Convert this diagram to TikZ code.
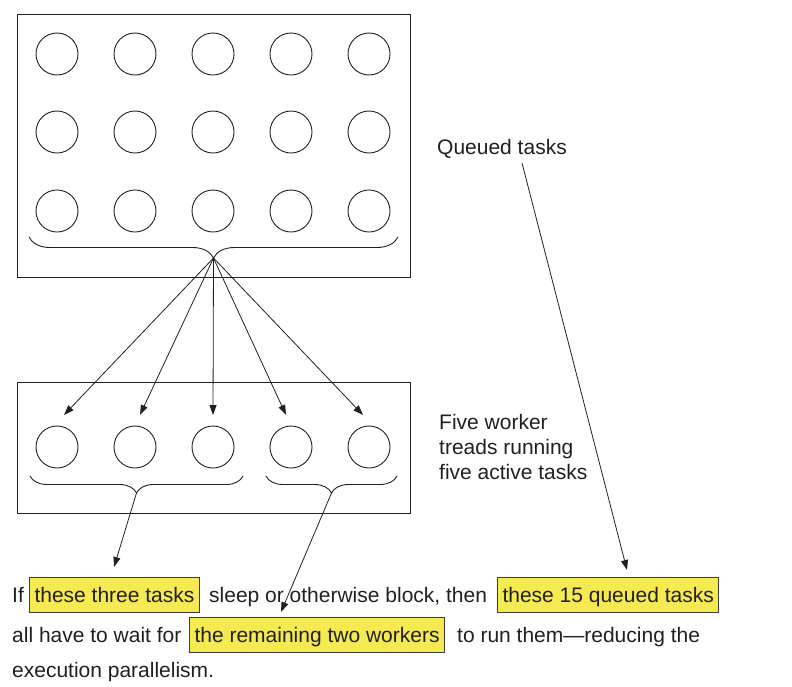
\documentclass[tikz,border=0pt]{standalone}
\usepackage{fontspec}
\setmainfont{Liberation Sans}
\usetikzlibrary{arrows.meta,decorations.pathreplacing}
\definecolor{hly}{RGB}{245,234,82}
\definecolor{ink}{RGB}{35,31,32}
\definecolor{hlborder}{RGB}{60,60,60}
\begin{document}
\begin{tikzpicture}[x=1pt,y=-1pt,
  task/.style={circle,draw=ink,line width=0.9pt,minimum size=42pt,inner sep=0pt},
  panel/.style={draw=ink,line width=0.9pt,inner sep=0pt},
  txt/.style={text=ink,font=\fontsize{21}{25}\selectfont,inner sep=0pt,anchor=base west},
  hl/.style={txt,fill=hly,draw=hlborder,line width=1pt,inner xsep=5pt,inner ysep=5.5pt,
             text height=19pt,text depth=5pt},
  bracedown/.style={draw=ink,line width=0.9pt,decorate,decoration={brace,mirror,amplitude=#1}},
  conn/.style={draw=ink,line width=0.8pt,-{Triangle[length=10pt,width=7pt]}}]
\useasboundingbox (0,0) rectangle (792,686);

% panels
\node[panel,minimum width=393pt,minimum height=263pt] (pool) at (213.5,145.5) {};
\node[panel,minimum width=393pt,minimum height=131pt] (workers) at (213.5,447.5) {};

% queued task circles
\foreach \r/\y in {1/54,2/132,3/211}{
  \foreach \c in {1,...,5}{
    \node[task] (q\r\c) at ({57+78*(\c-1)},\y) {};
  }
}
% worker circles
\foreach \c in {1,...,5}{
  \node[task] (w\c) at ({57+78*(\c-1)},447) {};
}

% braces
\draw[bracedown=21pt] (29,237) -- (398,237);
\coordinate (tq) at (213.5,258);
\draw[bracedown=17pt] (30,476) -- (243,476);
\coordinate (tl) at (136.5,493);
\draw[bracedown=17pt] (266,476) -- (397,476);
\coordinate (tr) at (331.5,493);

% arrow targets above worker circles
\coordinate (a1) at (64,415);
\coordinate (a2) at (140,415);
\coordinate (a3) at (213,415);
\coordinate (a4) at (286,415);
\coordinate (a5) at (363,415);
\foreach \i in {1,...,5}{ \draw[conn] (tq) -- (a\i); }

% labels
\node[txt] (lq) at (437,154) {Queued tasks};
\node[txt,anchor=north west,align=left] (lw) at (439,414.5) {Five worker\\treads running\\five active tasks};

% bottom sentence
\node[txt] (s1) at (12,602) {If};
\node[hl] (h1) at (29,602) {these three tasks};
\node[txt] (s2) at (209,602) {sleep or otherwise block, then};
\node[hl] (h2) at (497,602) {these 15 queued tasks};
\node[txt] (s3) at (12,642) {all have to wait for};
\node[hl] (h3) at (189,642) {the remaining two workers};
\node[txt] (s4) at (457,642) {to run them—reducing the};
\node[txt] (s5) at (12,677) {execution parallelism.};

% arrows to sentence
\coordinate (e1) at (114,567);
\coordinate (e2) at (281,612);
\coordinate (qs) at (522,163);
\coordinate (e3) at (627,570);
\draw[conn] (tl) -- (e1);
\draw[conn] (tr) -- (e2);
\draw[conn] (qs) -- (e3);
\end{tikzpicture}
\end{document}
